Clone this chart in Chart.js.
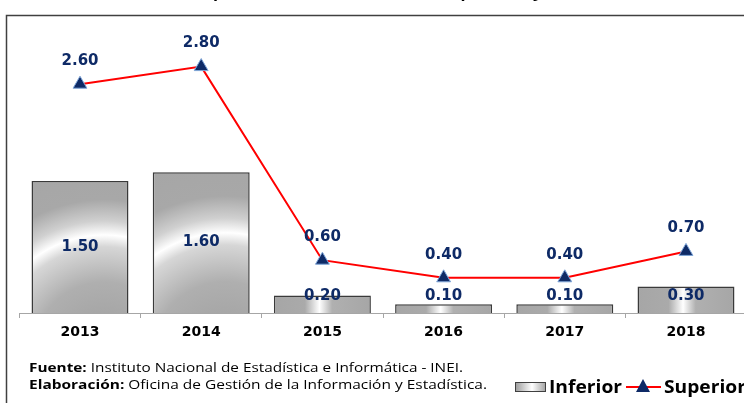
<!DOCTYPE html>
<html>
<head>
<meta charset="utf-8">
<script src="https://cdn.jsdelivr.net/npm/chart.js@4/dist/chart.umd.min.js"></script>
<style>
  html, body { margin: 0; padding: 0; background: #fff; overflow: hidden; }
  #wrap { position: relative; width: 760px; height: 403px; }
</style>
</head>
<body>
<div id="wrap"><canvas id="grafico" width="760" height="403"></canvas></div>
<script>
const anios = ["2013", "2014", "2015", "2016", "2017", "2018"];
const inferior = [1.5, 1.6, 0.2, 0.1, 0.1, 0.3];
const superior = [2.6, 2.8, 0.6, 0.4, 0.4, 0.7];
const titulo = "Incidencia de pobreza extrema, 2013 - 2018 (porcentaje)";
const fuente = ["Fuente:", " Instituto Nacional de Estadística e Informática - INEI."];
const elaboracion = ["Elaboración:", " Oficina de Gestión de la Información y Estadística."];

const azul = "#0e2a66";
const rojo = "#ff0000";

function rellenoBarra(c) {
  const chart = c.chart;
  const sx = chart.scales.x, sy = chart.scales.y;
  if (!sx || !sy || c.dataIndex === undefined) return "#a6a6a6";
  const g = chart.ctx;
  const cx = sx.getPixelForValue(c.dataIndex);
  const w = sx.width / anios.length * 0.8;
  const left = cx - w / 2;
  const top = sy.getPixelForValue(inferior[c.dataIndex]);
  const base = sy.getPixelForValue(0);
  const h = base - top;
  if (![cx, w, top, base].every(Number.isFinite) || w <= 0 || h <= 0) return "#a6a6a6";
  if (h < 30) {
    const lg = g.createLinearGradient(left, 0, left + w, 0);
    lg.addColorStop(0, "#a6a6a6");
    lg.addColorStop(0.32, "#aaaaaa");
    lg.addColorStop(0.47, "#ffffff");
    lg.addColorStop(0.6, "#b0b0b0");
    lg.addColorStop(1, "#a6a6a6");
    return lg;
  }
  const ox = left + 0.75 * w, oy = base + 0.3 * h;
  const r = Math.hypot(0.75 * w, 0.7 * h);
  const R1 = r * 1.6;
  const rg = g.createRadialGradient(ox, oy, 0, ox, oy, R1);
  rg.addColorStop(0, "#9c9c9c");
  rg.addColorStop(0.6 / 1.6, "#afafaf");
  rg.addColorStop(0.9 / 1.6, "#d6d6d6");
  rg.addColorStop(1 / 1.6, "#ffffff");
  rg.addColorStop(1.12 / 1.6, "#d0d0d0");
  rg.addColorStop(1.3 / 1.6, "#a8a8a8");
  rg.addColorStop(1, "#a6a6a6");
  return rg;
}

// dibuja partes [negrita, normal] escaladas a un ancho total
function lineaAjustada(g, partes, x, y, ancho, tam) {
  g.font = "bold " + tam + "px 'Open Sans'";
  const w0 = g.measureText(partes[0]).width;
  g.font = tam + "px 'Open Sans'";
  const w1 = g.measureText(partes[1]).width;
  const k = ancho / (w0 + w1);
  g.save();
  g.translate(x, y);
  g.scale(k, 1);
  g.font = "bold " + tam + "px 'Open Sans'";
  g.fillText(partes[0], 0, 0);
  g.font = tam + "px 'Open Sans'";
  g.fillText(partes[1], w0, 0);
  g.restore();
}

const extras = {
  id: "extras",
  afterDatasetsDraw(chart) {
    const g = chart.ctx;
    g.save();
    g.font = "bold 15px 'DejaVu Sans'";
    g.fillStyle = azul;
    g.textAlign = "center";
    g.textBaseline = "middle";
    chart.getDatasetMeta(0).data.forEach((b, i) => {
      const y = Math.min((b.y + b.base) / 2, b.base - 17);
      g.fillText(inferior[i].toFixed(2), b.x, y);
    });
    chart.getDatasetMeta(1).data.forEach((p, i) => {
      g.fillText(superior[i].toFixed(2), p.x, p.y - 23);
    });
    g.restore();
  },
  afterDraw(chart) {
    const g = chart.ctx;
    g.save();
    // marco
    g.strokeStyle = "#404040";
    g.lineWidth = 1.5;
    g.strokeRect(6.5, 15.5, 900, 600);

    // titulo (cortado arriba, solo asoman los trazos bajos)
    g.fillStyle = "#000";
    g.font = "bold 18px 'Open Sans'";
    g.textBaseline = "alphabetic";
    g.textAlign = "left";
    const pre = g.measureText("Incidencia de ").width;
    const hastaPar = g.measureText("Incidencia de pobreza extrema, 2013 - 2018 ").width;
    const kt = (455 - 213) / (hastaPar - pre);
    g.save();
    g.translate(213 - pre * kt, -3);
    g.scale(kt, 1);
    g.fillText(titulo, 0, 0);
    g.restore();

    // fuente
    g.fillStyle = "#000";
    g.textBaseline = "middle";
    lineaAjustada(g, fuente, 29, 368, 434, 13);
    lineaAjustada(g, elaboracion, 29, 385, 458, 13);

    // leyenda
    const lg = g.createLinearGradient(515, 0, 546, 0);
    lg.addColorStop(0, "#9a9a9a");
    lg.addColorStop(0.55, "#ffffff");
    lg.addColorStop(1, "#a0a0a0");
    g.fillStyle = lg;
    g.fillRect(515, 382, 31, 10);
    g.strokeStyle = "#404040";
    g.lineWidth = 1;
    g.strokeRect(515.5, 382.5, 30, 9);
    g.fillStyle = "#000";
    g.font = "bold 18px 'Open Sans'";
    const kl = 73 / g.measureText("Inferior").width;
    g.save();
    g.translate(549, 388);
    g.scale(kl, 1);
    g.fillText("Inferior", 0, 0);
    g.restore();
    g.strokeStyle = rojo;
    g.lineWidth = 2;
    g.beginPath();
    g.moveTo(626, 387);
    g.lineTo(661, 387);
    g.stroke();
    g.fillStyle = azul;
    g.beginPath();
    g.moveTo(643, 379);
    g.lineTo(650, 392);
    g.lineTo(636, 392);
    g.closePath();
    g.fill();
    g.fillStyle = "#000";
    g.save();
    g.translate(664, 388);
    g.scale(kl, 1);
    g.fillText("Superior", 0, 0);
    g.restore();
    g.restore();
  }
};

new Chart(document.getElementById("grafico"), {
  data: {
    labels: anios,
    datasets: [
      {
        type: "bar",
        label: "Inferior",
        data: inferior,
        backgroundColor: rellenoBarra,
        borderColor: "#3a3a3a",
        borderWidth: 1.5,
        barPercentage: 0.8,
        categoryPercentage: 1.0,
        order: 1
      },
      {
        type: "line",
        label: "Superior",
        data: superior,
        borderColor: rojo,
        borderWidth: 2,
        pointStyle: "triangle",
        pointRadius: 8,
        pointBackgroundColor: azul,
        pointBorderColor: "#7fa6d9",
        pointBorderWidth: 1,
        order: 0
      }
    ]
  },
  options: {
    responsive: false,
    animation: false,
    layout: { padding: { left: 19.4, right: 13.4, top: 31.4, bottom: 0 } },
    plugins: { legend: { display: false }, tooltip: { enabled: false } },
    scales: {
      x: {
        afterFit(s) { s.height = 90; },
        grid: { display: true, drawOnChartArea: false, drawTicks: true, tickLength: 5, color: "#a6a6a6", offset: true },
        border: { display: true, color: "#a6a6a6", width: 1 },
        ticks: { color: "#000", font: { family: "'DejaVu Sans'", weight: "bold", size: 14 }, padding: 6 }
      },
      y: {
        display: false,
        min: 0,
        max: 3.2
      }
    }
  },
  plugins: [extras]
});
</script>
</body>
</html>
